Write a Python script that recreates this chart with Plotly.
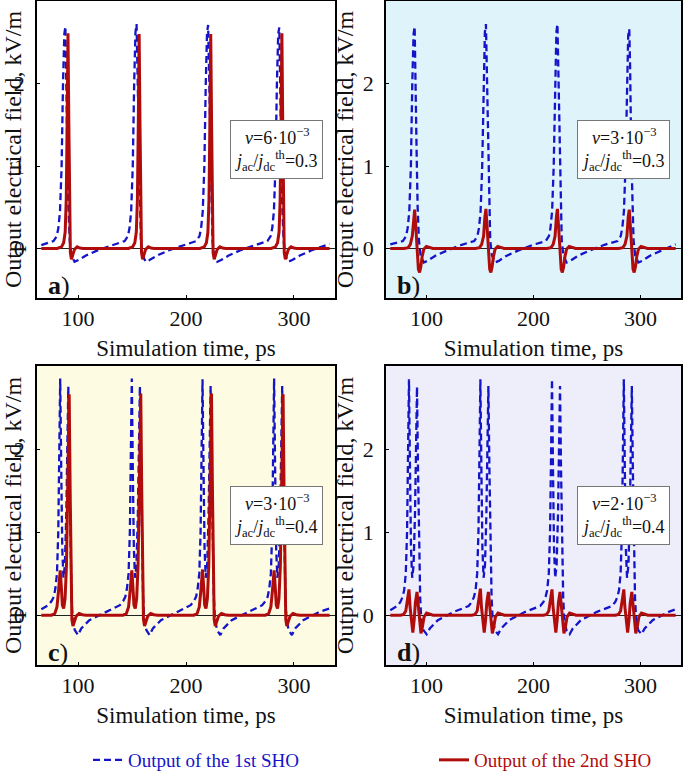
import plotly.graph_objects as go

# ---------------- data ----------------
x_ticks = [100, 200, 300]
y_ticks = [0, 1, 2]
t_range = [62, 338]
y_range = [-0.6, 3.0]

panel_letters = ["a", "b", "c", "d"]
nu_labels = ["6", "3", "3", "2"]
j_ratios = ["0.3", "0.3", "0.4", "0.4"]
series_names = ["Output of the 1st SHO", "Output of the 2nd SHO"]

# panel a
a_blue_t = [66, 71,
            77.3, 80.3, 81.8, 83.3, 84.8, 86.1, 87.3, 88.3, 89.1, 90.1, 91.1, 92.3, 93.8, 96.8, 100.3, 107.3, 119.3, 132.3,
            143.2, 146.2, 147.7, 149.2, 150.7, 152.0, 153.2, 154.2, 155.0, 156.0, 157.0, 158.2, 159.7, 162.7, 166.2, 173.2, 185.2, 198.2,
            209.5, 212.5, 214.0, 215.5, 217.0, 218.3, 219.5, 220.5, 221.3, 222.3, 223.3, 224.5, 226.0, 229.0, 232.5, 239.5, 251.5, 264.5,
            275.4, 278.4, 279.9, 281.4, 282.9, 284.2, 285.4, 286.4, 287.2, 288.2, 289.2, 290.4, 291.9, 294.9, 298.4, 305.4, 317.4, 330.4,
            333]
a_blue_y = [0.04, 0.06,
            0.09, 0.15, 0.25, 0.45, 1.0, 2.0, 2.6, 2.69, 2.2, 1.2, 0.5, 0.1, -0.08, -0.16, -0.14, -0.085, -0.016, 0.045,
            0.09, 0.15, 0.25, 0.45, 1.0, 2.0, 2.62, 2.72, 2.2, 1.2, 0.5, 0.1, -0.08, -0.16, -0.14, -0.085, -0.016, 0.045,
            0.09, 0.15, 0.25, 0.45, 1.0, 2.0, 2.62, 2.71, 2.2, 1.2, 0.5, 0.1, -0.08, -0.16, -0.14, -0.085, -0.016, 0.045,
            0.09, 0.15, 0.25, 0.45, 1.0, 2.0, 2.6, 2.68, 2.2, 1.2, 0.5, 0.1, -0.08, -0.16, -0.14, -0.085, -0.016, 0.045,
            0.055]
a_red_t = [66,
           80.7, 84.7, 86.7, 88.1, 89.1, 89.9, 90.7, 91.5, 92.2, 92.9, 93.9, 95.2, 96.7, 99.2, 101.7, 104.7,
           146.6, 150.6, 152.6, 154.0, 155.0, 155.8, 156.6, 157.4, 158.1, 158.8, 159.8, 161.1, 162.6, 165.1, 167.6, 170.6,
           212.9, 216.9, 218.9, 220.3, 221.3, 222.1, 222.9, 223.7, 224.4, 225.1, 226.1, 227.4, 228.9, 231.4, 233.9, 236.9,
           278.8, 282.8, 284.8, 286.2, 287.2, 288.0, 288.8, 289.6, 290.3, 291.0, 292.0, 293.3, 294.8, 297.3, 299.8, 302.8,
           333]
a_red_y = [0,
           0, 0.02, 0.07, 0.2, 0.6, 1.5, 2.61, 1.5, 0.4, -0.05, -0.13, -0.08, -0.01, 0.02, 0.005, 0,
           0, 0.02, 0.07, 0.2, 0.6, 1.5, 2.6, 1.5, 0.4, -0.05, -0.13, -0.08, -0.01, 0.02, 0.005, 0,
           0, 0.02, 0.07, 0.2, 0.6, 1.5, 2.6, 1.5, 0.4, -0.05, -0.13, -0.08, -0.01, 0.02, 0.005, 0,
           0, 0.02, 0.07, 0.2, 0.6, 1.5, 2.61, 1.5, 0.4, -0.05, -0.13, -0.08, -0.01, 0.02, 0.005, 0,
           0]

# panel b
b_blue_t = [66, 71,
            77.8, 80.8, 82.3, 83.8, 85.3, 86.6, 87.8, 88.8, 89.6, 90.6, 91.6, 92.8, 94.3, 97.3, 100.8, 107.8, 119.8, 132.8,
            144.5, 147.5, 149.0, 150.5, 152.0, 153.3, 154.5, 155.5, 156.3, 157.3, 158.3, 159.5, 161.0, 164.0, 167.5, 174.5, 186.5, 199.5,
            211.4, 214.4, 215.9, 217.4, 218.9, 220.2, 221.4, 222.4, 223.2, 224.2, 225.2, 226.4, 227.9, 230.9, 234.4, 241.4, 253.4, 266.4,
            278.6, 281.6, 283.1, 284.6, 286.1, 287.4, 288.6, 289.6, 290.4, 291.4, 292.4, 293.6, 295.1, 298.1, 301.6, 308.6, 320.6,
            333]
b_blue_y = [0.05, 0.065,
            0.09, 0.15, 0.25, 0.45, 1.0, 2.0, 2.6, 2.69, 2.2, 1.2, 0.5, 0.1, -0.08, -0.17, -0.15, -0.09, -0.02, 0.045,
            0.09, 0.15, 0.25, 0.45, 1.0, 2.0, 2.62, 2.72, 2.2, 1.2, 0.5, 0.1, -0.08, -0.17, -0.15, -0.09, -0.02, 0.045,
            0.09, 0.15, 0.25, 0.45, 1.0, 2.0, 2.62, 2.72, 2.2, 1.2, 0.5, 0.1, -0.08, -0.17, -0.15, -0.09, -0.02, 0.045,
            0.09, 0.15, 0.25, 0.45, 1.0, 2.0, 2.58, 2.66, 2.2, 1.2, 0.5, 0.1, -0.08, -0.17, -0.15, -0.09, -0.02,
            0.05]
b_red_t = [66,
           78.8, 82.8, 84.8, 86.6, 87.8, 88.8, 89.7, 90.6, 91.4, 92.3, 93.4, 94.6, 95.8, 97.3, 99.8, 102.8, 105.8,
           145.5, 149.5, 151.5, 153.3, 154.5, 155.5, 156.4, 157.3, 158.1, 159.0, 160.1, 161.3, 162.5, 164.0, 166.5, 169.5, 172.5,
           212.4, 216.4, 218.4, 220.2, 221.4, 222.4, 223.3, 224.2, 225.0, 225.9, 227.0, 228.2, 229.4, 230.9, 233.4, 236.4, 239.4,
           279.6, 283.6, 285.6, 287.4, 288.6, 289.6, 290.5, 291.4, 292.2, 293.1, 294.2, 295.4, 296.6, 298.1, 300.6, 303.6, 306.6,
           333]
b_red_y = [0,
           0, 0.01, 0.05, 0.15, 0.38, 0.47, 0.3, 0.05, -0.12, -0.25, -0.29, -0.22, -0.1, -0.01, 0.025, 0.01, 0,
           0, 0.01, 0.05, 0.15, 0.38, 0.48, 0.3, 0.05, -0.12, -0.25, -0.29, -0.22, -0.1, -0.01, 0.025, 0.01, 0,
           0, 0.01, 0.05, 0.15, 0.38, 0.48, 0.3, 0.05, -0.12, -0.25, -0.29, -0.22, -0.1, -0.01, 0.025, 0.01, 0,
           0, 0.01, 0.05, 0.15, 0.38, 0.47, 0.3, 0.05, -0.12, -0.25, -0.29, -0.22, -0.1, -0.01, 0.025, 0.01, 0,
           0]

# panel c
c_blue_t = [66,
            72.5, 75.5, 77.5, 79.0, 80.5, 81.7, 82.7, 83.5, 84.4, 85.4, 86.5, 87.8, 89.1, 90.1, 91.0, 91.9, 92.9, 94.0, 95.0, 97.0, 100.0, 103.0, 110.5, 125.5,
            138.8, 141.8, 143.8, 145.3, 146.8, 148.0, 149.0, 149.8, 150.7, 151.7, 152.8, 154.1, 155.4, 156.4, 157.3, 158.2, 159.2, 160.3, 161.3, 163.3, 166.3, 169.3, 176.8, 191.8,
            204.3, 207.3, 209.3, 210.8, 212.3, 213.5, 214.5, 215.3, 216.2, 217.2, 218.3, 219.6, 220.9, 221.9, 222.8, 223.7, 224.7, 225.8, 226.8, 228.8, 231.8, 234.8, 242.3, 257.3,
            270.6, 273.6, 275.6, 277.1, 278.6, 279.8, 280.8, 281.6, 282.5, 283.5, 284.6, 285.9, 287.2, 288.2, 289.1, 290.0, 291.0, 292.1, 293.1, 295.1, 298.1, 301.1, 308.6, 323.6,
            333]
c_blue_y = [0.07,
            0.12, 0.17, 0.22, 0.32, 0.5, 1.0, 2.0, 2.85, 1.8, 0.8, 0.45, 0.6, 1.2, 2.0, 2.75, 1.8, 0.8, 0.2, -0.05, -0.18, -0.24, -0.16, -0.06, 0.04,
            0.12, 0.17, 0.22, 0.32, 0.5, 1.0, 2.0, 2.85, 1.8, 0.8, 0.45, 0.6, 1.2, 2.0, 2.76, 1.8, 0.8, 0.2, -0.05, -0.18, -0.24, -0.16, -0.06, 0.04,
            0.12, 0.17, 0.22, 0.32, 0.5, 1.0, 2.0, 2.84, 1.8, 0.8, 0.45, 0.6, 1.2, 2.0, 2.76, 1.8, 0.8, 0.2, -0.05, -0.18, -0.24, -0.16, -0.06, 0.04,
            0.12, 0.17, 0.22, 0.32, 0.5, 1.0, 2.0, 2.85, 1.8, 0.8, 0.45, 0.6, 1.2, 2.0, 2.76, 1.8, 0.8, 0.2, -0.05, -0.18, -0.24, -0.16, -0.06, 0.04,
            0.08]
c_red_t = [66,
           75.5, 78.5, 80.5, 82.0, 83.5, 84.5, 85.5, 86.7, 88.0, 89.3, 90.5, 91.8, 92.7, 93.5, 94.3, 95.3, 96.7, 98.3, 101.0, 104.0, 107.5,
           141.8, 144.8, 146.8, 148.3, 149.8, 150.8, 151.8, 153.0, 154.3, 155.6, 156.8, 158.1, 159.0, 159.8, 160.6, 161.6, 163.0, 164.6, 167.3, 170.3, 173.8,
           207.3, 210.3, 212.3, 213.8, 215.3, 216.3, 217.3, 218.5, 219.8, 221.1, 222.3, 223.6, 224.5, 225.3, 226.1, 227.1, 228.5, 230.1, 232.8, 235.8, 239.3,
           273.6, 276.6, 278.6, 280.1, 281.6, 282.6, 283.6, 284.8, 286.1, 287.4, 288.6, 289.9, 290.8, 291.6, 292.4, 293.4, 294.8, 296.4, 299.1, 302.1, 305.6,
           333]
c_red_y = [0,
           0, 0.02, 0.1, 0.3, 0.54, 0.35, 0.12, 0.08, 0.2, 0.6, 1.5, 2.66, 1.5, 0.4, -0.05, -0.13, -0.08, -0.01, 0.02, 0.005, 0,
           0, 0.02, 0.1, 0.3, 0.54, 0.35, 0.12, 0.08, 0.2, 0.6, 1.5, 2.67, 1.5, 0.4, -0.05, -0.13, -0.08, -0.01, 0.02, 0.005, 0,
           0, 0.02, 0.1, 0.3, 0.55, 0.35, 0.12, 0.08, 0.2, 0.6, 1.5, 2.67, 1.5, 0.4, -0.05, -0.13, -0.08, -0.01, 0.02, 0.005, 0,
           0, 0.02, 0.1, 0.3, 0.54, 0.35, 0.12, 0.08, 0.2, 0.6, 1.5, 2.66, 1.5, 0.4, -0.05, -0.13, -0.08, -0.01, 0.02, 0.005, 0,
           0]

# panel d
d_blue_t = [66,
            72.5, 75.5, 77.5, 79.0, 80.5, 81.7, 82.7, 83.5, 84.4, 85.4, 86.5, 87.8, 89.1, 90.1, 91.0, 91.9, 92.9, 94.0, 95.0, 97.0, 100.0, 103.0, 110.5, 125.5,
            139.3, 142.3, 144.3, 145.8, 147.3, 148.5, 149.5, 150.3, 151.2, 152.2, 153.3, 154.6, 155.9, 156.9, 157.8, 158.7, 159.7, 160.8, 161.8, 163.8, 166.8, 169.8, 177.3, 192.3,
            206.3, 209.3, 211.3, 212.8, 214.3, 215.5, 216.5, 217.3, 218.2, 219.2, 220.3, 221.6, 222.9, 223.9, 224.8, 225.7, 226.7, 227.8, 228.8, 230.8, 233.8, 236.8, 244.3, 259.3,
            273.5, 276.5, 278.5, 280.0, 281.5, 282.7, 283.7, 284.5, 285.4, 286.4, 287.5, 288.8, 290.1, 291.1, 292.0, 292.9, 293.9, 295.0, 296.0, 298.0, 301.0, 304.0, 311.5, 326.5,
            333]
d_blue_y = [0.06,
            0.11, 0.16, 0.22, 0.3, 0.5, 1.0, 2.0, 2.84, 1.8, 0.8, 0.45, 0.6, 1.2, 2.0, 2.75, 1.8, 0.8, 0.2, -0.05, -0.18, -0.23, -0.16, -0.06, 0.04,
            0.11, 0.16, 0.22, 0.3, 0.5, 1.0, 2.0, 2.84, 1.8, 0.8, 0.45, 0.6, 1.2, 2.0, 2.76, 1.8, 0.8, 0.2, -0.05, -0.18, -0.23, -0.16, -0.06, 0.04,
            0.11, 0.16, 0.22, 0.3, 0.5, 1.0, 2.0, 2.84, 1.8, 0.8, 0.45, 0.6, 1.2, 2.0, 2.76, 1.8, 0.8, 0.2, -0.05, -0.18, -0.23, -0.16, -0.06, 0.04,
            0.11, 0.16, 0.22, 0.3, 0.5, 1.0, 2.0, 2.84, 1.8, 0.8, 0.45, 0.6, 1.2, 2.0, 2.76, 1.8, 0.8, 0.2, -0.05, -0.18, -0.23, -0.16, -0.06, 0.04,
            0.07]
d_red_t = [66,
           75.5, 78.5, 80.5, 82.0, 83.5, 84.5, 85.8, 87.1, 88.4, 89.5, 91.0, 92.2, 93.3, 94.7, 96.1, 97.6, 100.0, 103.0, 106.0,
           142.3, 145.3, 147.3, 148.8, 150.3, 151.3, 152.6, 153.9, 155.2, 156.3, 157.8, 159.0, 160.1, 161.5, 162.9, 164.4, 166.8, 169.8, 172.8,
           209.3, 212.3, 214.3, 215.8, 217.3, 218.3, 219.6, 220.9, 222.2, 223.3, 224.8, 226.0, 227.1, 228.5, 229.9, 231.4, 233.8, 236.8, 239.8,
           276.5, 279.5, 281.5, 283.0, 284.5, 285.5, 286.8, 288.1, 289.4, 290.5, 292.0, 293.2, 294.3, 295.7, 297.1, 298.6, 301.0, 304.0, 307.0,
           333]
d_red_y = [0,
           0, 0.01, 0.05, 0.18, 0.31, 0.1, -0.1, -0.21, -0.05, 0.15, 0.28, 0.1, -0.1, -0.22, -0.14, -0.02, 0.025, 0.01, 0,
           0, 0.01, 0.05, 0.18, 0.32, 0.1, -0.1, -0.21, -0.05, 0.15, 0.28, 0.1, -0.1, -0.22, -0.14, -0.02, 0.025, 0.01, 0,
           0, 0.01, 0.05, 0.18, 0.31, 0.1, -0.1, -0.21, -0.05, 0.15, 0.28, 0.1, -0.1, -0.22, -0.14, -0.02, 0.025, 0.01, 0,
           0, 0.01, 0.05, 0.18, 0.31, 0.1, -0.1, -0.21, -0.05, 0.15, 0.28, 0.1, -0.1, -0.22, -0.14, -0.02, 0.025, 0.01, 0,
           0]

# ---------------- styling ----------------
W, H = 685, 775
FONT = "Liberation Serif"
BLUE = "#1414c8"
RED = "#b00c0c"
bgs = ["#ffffff", "#dff3fb", "#fdfce3", "#eeeefb"]

x_doms = [[37 / W, 335 / W], [386 / W, 681 / W], [37 / W, 335 / W], [386 / W, 681 / W]]
y_doms = [[477 / H, 774 / H], [477 / H, 774 / H], [110 / H, 409 / H], [110 / H, 409 / H]]

blues = [(a_blue_t, a_blue_y), (b_blue_t, b_blue_y), (c_blue_t, c_blue_y), (d_blue_t, d_blue_y)]
reds = [(a_red_t, a_red_y), (b_red_t, b_red_y), (c_red_t, c_red_y), (d_red_t, d_red_y)]

fig = go.Figure()
annotations = []
layout_axes = {}

for i in range(4):
    sfx = "" if i == 0 else str(i + 1)
    xr, yr = "x" + sfx, "y" + sfx
    bt, by = blues[i]
    rt, ry = reds[i]
    fig.add_trace(go.Scatter(
        x=bt, y=by, xaxis=xr, yaxis=yr, mode="lines",
        line=dict(color=BLUE, width=2.3, dash="7px,4px"),
        name=series_names[0], legend="legend",
        legendgroup="blue", showlegend=(i == 0)))
    fig.add_trace(go.Scatter(
        x=rt, y=ry, xaxis=xr, yaxis=yr, mode="lines",
        line=dict(color=RED, width=3),
        name=series_names[1], legend="legend2",
        legendgroup="red", showlegend=(i == 0)))

    layout_axes["xaxis" + sfx] = dict(
        domain=x_doms[i], anchor=yr, range=t_range, automargin=True,
        tickvals=x_ticks, ticktext=[str(v) for v in x_ticks],
        ticks="inside", ticklen=3, tickcolor="black",
        showline=True, linecolor="black", linewidth=1.6, mirror=True,
        showgrid=False, zeroline=False,
        tickfont=dict(family=FONT, size=22, color="#111"),
        title=dict(text="Simulation time, ps", font=dict(family=FONT, size=23, color="#111"), standoff=10))
    layout_axes["yaxis" + sfx] = dict(
        domain=y_doms[i], anchor=xr, range=y_range, automargin=True,
        tickvals=y_ticks, ticktext=[str(v) for v in y_ticks],
        ticks="inside", ticklen=3, tickcolor="black", ticklabelstandoff=6,
        showline=True, linecolor="black", linewidth=1.6, mirror=True,
        showgrid=False, zeroline=True, zerolinecolor="#222", zerolinewidth=1.2,
        tickfont=dict(family=FONT, size=22, color="#111"),
        title=dict(text="Output electrical field, kV/m", font=dict(family=FONT, size=24, color="#111"), standoff=2))

    # background colour of the plot area
    fig.add_shape(type="rect", xref=xr + " domain", yref=yr + " domain",
                  x0=0, x1=1, y0=0, y1=1, fillcolor=bgs[i], line=dict(width=0), layer="below")

    # parameter box
    annotations.append(dict(
        xref=xr, yref=yr, x=284, y=1.2, xanchor="center", yanchor="middle",
        text="<i>ν</i>=%s·10<sup>−3</sup><br><i>j</i><sub>ac</sub>/<i>j</i><sub>dc</sub><sup>th</sup>=%s" % (nu_labels[i], j_ratios[i]),
        showarrow=False, align="center",
        font=dict(family=FONT, size=18, color="#111"),
        bgcolor="white", bordercolor="#777", borderwidth=1, borderpad=4))
    # panel letter
    annotations.append(dict(
        xref=xr, yref=yr, x=70, y=-0.45, xanchor="left", yanchor="middle",
        text="<b>%s</b>)" % panel_letters[i], showarrow=False,
        font=dict(family=FONT, size=26, color="#111")))

fig.update_layout(
    width=W, height=H,
    margin=dict(l=0, r=0, t=0, b=0, autoexpand=False),
    paper_bgcolor="white", plot_bgcolor="rgba(0,0,0,0)",
    showlegend=True,
    legend=dict(orientation="h", x=88 / W, y=15 / H, xanchor="left", yanchor="middle",
                font=dict(family=FONT, size=19, color=BLUE), bgcolor="rgba(0,0,0,0)"),
    legend2=dict(orientation="h", x=434 / W, y=15 / H, xanchor="left", yanchor="middle",
                 font=dict(family=FONT, size=19, color=RED), bgcolor="rgba(0,0,0,0)"),
    annotations=annotations,
    **layout_axes,
)

fig.write_html("out.html", config={"displayModeBar": False},
               post_script="document.body.style.margin='0';document.body.style.overflow='hidden';")
